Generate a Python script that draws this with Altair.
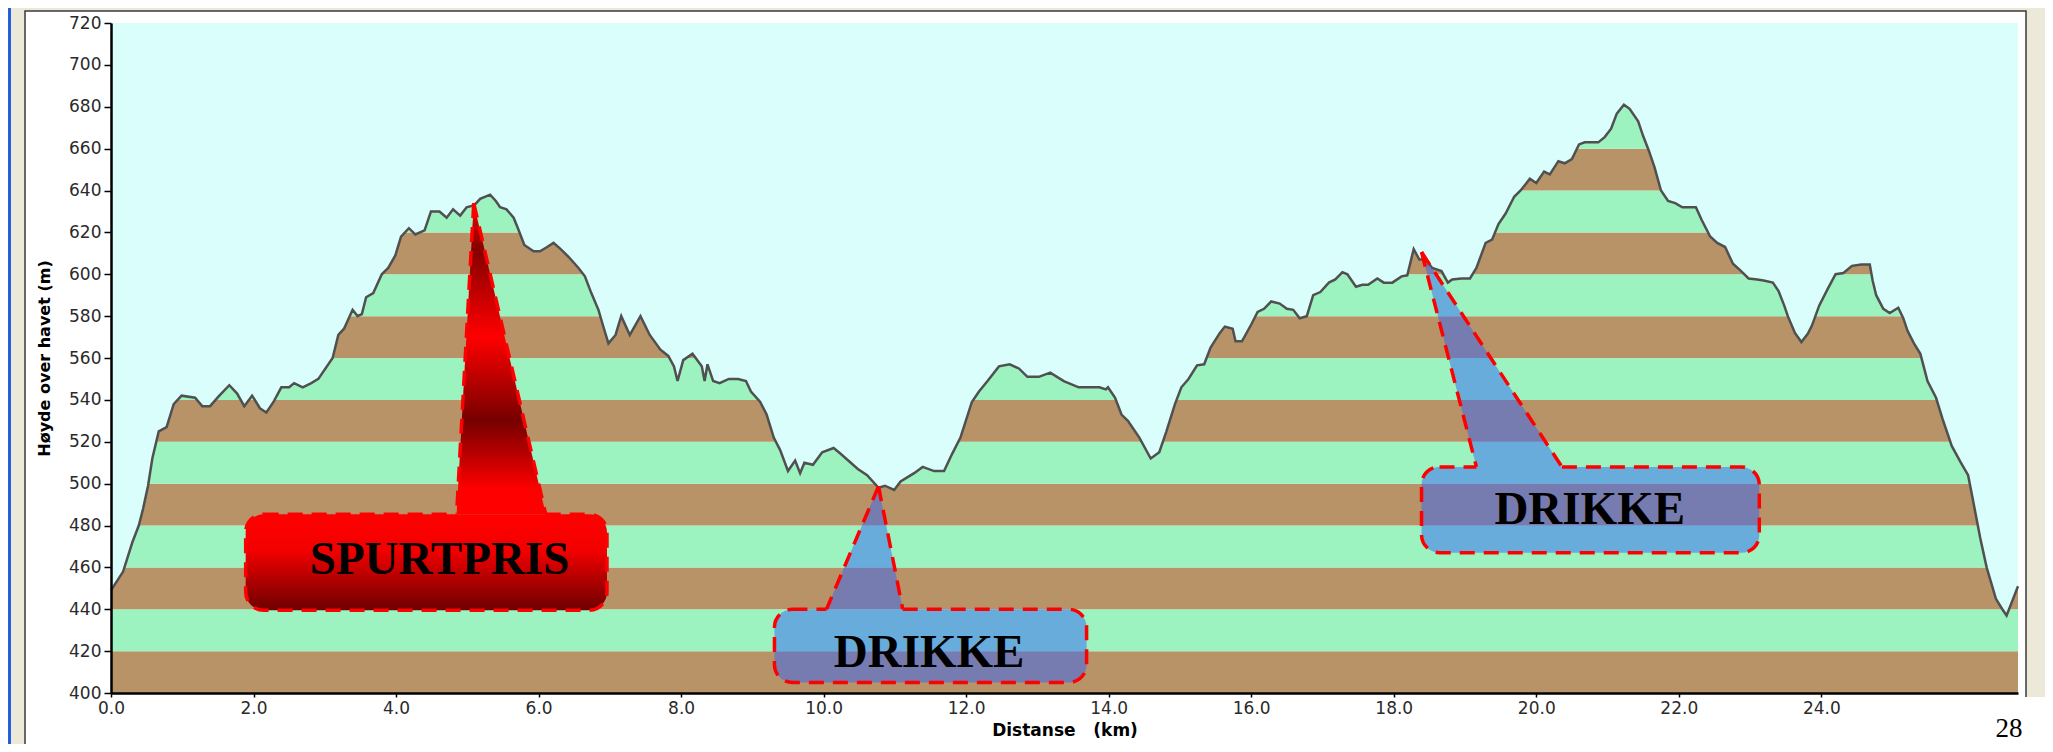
import altair as alt
import pandas as pd

# ---------------- data ----------------
profile_km = [0.00, 0.17, 0.30, 0.39, 0.45, 0.52, 0.58, 0.67, 0.78, 0.88, 0.99, 1.18, 1.28, 1.39, 1.52,
              1.66, 1.77, 1.87, 1.98, 2.09, 2.18, 2.28, 2.39, 2.50, 2.57, 2.69, 2.81, 2.91, 3.11, 3.19,
              3.27, 3.39, 3.46, 3.52, 3.58, 3.68, 3.80, 3.89, 3.99, 4.07, 4.18, 4.27, 4.40, 4.49, 4.61,
              4.71, 4.80, 4.90, 4.99, 5.10, 5.18, 5.32, 5.40, 5.46, 5.55, 5.65, 5.71, 5.80, 5.93, 6.02,
              6.12, 6.21, 6.31, 6.43, 6.56, 6.65, 6.74, 6.84, 6.90, 6.98, 7.08, 7.16, 7.28, 7.43, 7.56,
              7.71, 7.82, 7.90, 7.95, 8.03, 8.16, 8.29, 8.33, 8.37, 8.45, 8.54, 8.67, 8.80, 8.91, 8.98,
              9.11, 9.20, 9.30, 9.39, 9.50, 9.60, 9.67, 9.73, 9.85, 9.98, 10.14, 10.23, 10.48, 10.61, 10.77,
              10.86, 10.99, 11.08, 11.27, 11.39, 11.55, 11.69, 11.80, 11.92, 12.08, 12.18, 12.30, 12.46, 12.61, 12.74,
              12.86, 13.02, 13.18, 13.37, 13.58, 13.87, 13.96, 13.99, 14.09, 14.18, 14.27, 14.43, 14.59, 14.71, 14.81,
              14.93, 15.02, 15.12, 15.24, 15.34, 15.43, 15.56, 15.63, 15.74, 15.78, 15.87, 16.00, 16.09, 16.18, 16.28,
              16.40, 16.50, 16.59, 16.68, 16.78, 16.87, 16.97, 17.09, 17.18, 17.28, 17.35, 17.47, 17.56, 17.64, 17.77,
              17.86, 17.98, 18.11, 18.19, 18.28, 18.36, 18.45, 18.54, 18.67, 18.76, 18.82, 18.95, 19.07, 19.16, 19.29,
              19.38, 19.47, 19.57, 19.69, 19.78, 19.91, 20.00, 20.11, 20.19, 20.31, 20.40, 20.50, 20.60, 20.68, 20.87,
              20.96, 21.05, 21.13, 21.23, 21.31, 21.43, 21.50, 21.58, 21.66, 21.75, 21.85, 21.95, 22.05, 22.14, 22.24,
              22.32, 22.44, 22.54, 22.65, 22.76, 22.86, 22.98, 23.10, 23.19, 23.32, 23.40, 23.48, 23.53, 23.63, 23.72,
              23.81, 23.87, 23.97, 24.09, 24.20, 24.31, 24.43, 24.56, 24.68, 24.72, 24.77, 24.87, 24.96, 25.08, 25.15,
              25.21, 25.30, 25.39, 25.49, 25.61, 25.70, 25.83, 25.95, 26.06, 26.14, 26.23, 26.32, 26.45, 26.54, 26.60,
              26.68, 26.76]
profile_m = [449, 458, 472, 480, 488, 499, 512, 525, 527, 538, 542, 541, 537, 537, 542,
             547, 543, 537, 542, 536, 534, 539, 546, 546, 548, 546, 548, 550, 560, 571,
             574, 583, 580, 581, 589, 591, 600, 603, 609, 618, 622, 619, 621, 630, 630,
             627, 631, 628, 632, 633, 636, 638, 635, 632, 631, 627, 622, 614, 611, 611,
             613, 615, 612, 608, 603, 599, 591, 583, 576, 567, 571, 580, 571, 580, 571,
             564, 561, 556, 549, 559, 562, 556, 549, 557, 549, 548, 550, 550, 549, 544,
             539, 533, 522, 516, 506, 511, 505, 510, 509, 515, 517, 514.5, 507, 504, 498,
             499, 497, 501, 505, 508, 506, 506, 514, 522, 539, 544, 549, 556, 557, 555,
             551, 551, 553, 549, 546, 546, 545, 546, 541, 533, 530, 522, 512, 515, 525,
             538, 546, 550, 556.5, 557, 565, 572, 575, 574, 568, 568, 576, 582, 583.5, 587,
             586, 583.5, 583, 579, 580, 590, 591.5, 596, 597.5, 601, 600, 594, 595, 595, 598,
             596, 596, 599, 599.5, 612, 607, 607, 603, 601.5, 596, 597.5, 598, 598, 603, 615,
             616.5, 624, 629, 637, 640, 645.6, 643.6, 649, 647.7, 654, 653, 655, 662, 663, 663,
             665.5, 669.5, 676.7, 681, 679, 673, 666, 659, 651, 640, 635, 634, 632, 632, 632,
             626, 618, 615, 613, 605, 602, 598, 597.5, 597, 596, 592, 585, 580, 572, 567.6,
             571.6, 575.6, 585, 593, 600, 600.6, 604, 604.6, 604.6, 597, 590, 583.5, 581.5, 584, 579,
             573, 567, 562, 549, 541, 531, 518, 510.5, 504, 490, 474, 460, 445, 440, 437,
             444, 451]

x_ticks = [0, 2, 4, 6, 8, 10, 12, 14, 16, 18, 20, 22, 24]
y_ticks = [400, 420, 440, 460, 480, 500, 520, 540, 560, 580, 600, 620, 640, 660, 680, 700, 720]

stripe_bottom = [400, 420, 440, 460, 480, 500, 520, 540, 560, 580, 600, 620, 640, 660, 680, 700]
stripe_top = [420, 440, 460, 480, 500, 520, 540, 560, 580, 600, 620, 640, 660, 680, 700, 720]
stripe_kind = ["brun", "grønn"] * 8

callout_text = ["SPURTPRIS", "DRIKKE", "DRIKKE"]
box_left = [1.89, 9.31, 18.39]
box_right = [6.96, 13.69, 23.13]
box_top = [485.4, 440.0, 508.0]
box_bottom = [439.5, 405.0, 467.0]
apex_km = [5.09, 10.77, 18.39]
apex_m = [634.0, 498.7, 610.6]
base_left = [4.85, 10.04, 19.16]
base_right = [6.10, 11.11, 20.36]
text_km = [4.61, 11.48, 20.75]
text_m = [457.0, 412.5, 480.6]

page_number = "28"

# ---------------- layout / style ----------------
X_MAX = 26.76
W, H = 1907, 670
SKY = "#DAFEFC"
GREEN = "#9CF3C0"
BROWN = "#B89368"
BLUE = "#3366F5"
RED = "#FF0000"
R = 18
DASH, GAP = 15, 9

xs = alt.Scale(domain=[0, X_MAX], nice=False, zero=False)
ys = alt.Scale(domain=[400, 720], nice=False, zero=False)

X_AXIS = alt.Axis(
    values=x_ticks, format=".1f", title="Distanse\u00a0\u00a0\u00a0(km)",
    grid=False, domainColor="black", domainWidth=2.5, tickColor="black", tickWidth=1.5, tickSize=4,
    labelFont="DejaVu Sans", labelFontSize=17, labelColor="#2a2a2a", labelPadding=3,
    labelFlush=False, labelOverlap=False,
    titleFont="DejaVu Sans", titleFontSize=17, titleFontWeight="bold", titleColor="black",
    titleX=W / 2, titleY=37, titleBaseline="middle", zindex=1)
Y_AXIS = alt.Axis(
    values=y_ticks, format="d", title="Høyde over havet (m)",
    grid=False, domainColor="black", domainWidth=2.5, tickColor="black", tickWidth=1.5, tickSize=7,
    labelFont="DejaVu Sans", labelFontSize=17, labelColor="#2a2a2a", labelPadding=3,
    labelFlush=False, labelOverlap=False,
    titleFont="DejaVu Sans", titleFontSize=16, titleFontWeight="bold", titleColor="black",
    titleX=-67, titleY=H / 2, titleBaseline="middle", zindex=1)


def X(field):
    return alt.X(field, scale=xs, axis=X_AXIS)


def Y(field):
    return alt.Y(field, scale=ys, axis=Y_AXIS)


one = pd.DataFrame({"a": [0]})
prof = pd.DataFrame({"km": profile_km, "m": profile_m})


def gap_dash(left, bl, br):
    """dash array for a rounded rect whose top edge has a hole where the pointer joins"""
    l1 = (bl - left) * W / X_MAX - R
    gap = (br - bl) * W / X_MAX
    arr = []
    pos = 0.0
    while pos + DASH + GAP <= l1:
        arr += [DASH, GAP]
        pos += DASH + GAP
    rem = l1 - pos
    if rem > DASH:
        arr += [DASH, round(rem - DASH + gap, 1)]
    elif rem > 0:
        arr += [round(rem, 1), round(gap, 1)]
    else:
        arr[-1] = round(arr[-1] + gap, 1)
    arr += [DASH, GAP] * 70
    return arr


# decorations around the plot (window panel)
panel = alt.Chart(one).mark_rect(fill="white", stroke="#3a3a3a", strokeWidth=1.5).encode(
    x=alt.value(-86), x2=alt.value(1915), y=alt.value(-12), y2=alt.value(722))
blue_edge = alt.Chart(one).mark_rect(fill="#2160E0").encode(
    x=alt.value(-103), x2=alt.value(-100), y=alt.value(-15), y2=alt.value(722))

stripes = alt.Chart(pd.DataFrame({"lo": stripe_bottom, "hi": stripe_top, "kind": stripe_kind})).mark_rect().encode(
    x=alt.value(0), x2=alt.value(W),
    y=Y("hi:Q"), y2="lo:Q",
    color=alt.Color("kind:N", scale=alt.Scale(domain=["brun", "grønn"], range=[BROWN, GREEN]), legend=None))

sky = alt.Chart(prof).mark_area(color=SKY, opacity=1).encode(
    x=X("km:Q"), y=Y("m:Q"), y2=alt.datum(720))

line = alt.Chart(prof).mark_line(color="#505050", strokeWidth=2.5).encode(
    x=X("km:Q"), y=Y("m:Q"))

red_box_grad = {"gradient": "linear", "x1": 0, "y1": 0, "x2": 0, "y2": 1,
                "stops": [{"offset": 0, "color": "#FF0000"}, {"offset": 0.38, "color": "#F20000"},
                          {"offset": 1, "color": "#6C0000"}]}
red_ptr_grad = {"gradient": "linear", "x1": 0, "y1": 0, "x2": 0, "y2": 1,
                "stops": [{"offset": 0, "color": "#FF0000"}, {"offset": 0.15, "color": "#840000"},
                          {"offset": 0.43, "color": "#FF0000"}, {"offset": 0.70, "color": "#760000"},
                          {"offset": 0.92, "color": "#FF0000"}, {"offset": 1, "color": "#FF0000"}]}

layers = [panel, blue_edge, stripes, sky, line]

for i, txt in enumerate(callout_text):
    red = txt == "SPURTPRIS"
    bdf = pd.DataFrame({"l": [box_left[i]], "r": [box_right[i]], "t": [box_top[i]], "b": [box_bottom[i]]})
    dash = gap_dash(box_left[i], base_left[i], base_right[i])
    if red:
        bmark = alt.Chart(bdf).mark_rect(fill=red_box_grad, stroke=RED, strokeWidth=3.5,
                                         strokeDash=dash, cornerRadius=R)
    else:
        bmark = alt.Chart(bdf).mark_rect(fill=BLUE, fillOpacity=0.5, stroke=RED, strokeWidth=3.5,
                                         strokeOpacity=1, strokeDash=dash, cornerRadius=R)
    box = bmark.encode(x=X("l:Q"), x2="r:Q", y=Y("t:Q"), y2="b:Q")

    pdf = pd.DataFrame({"m": [apex_m[i], box_top[i]],
                        "xl": [apex_km[i], base_left[i]],
                        "xr": [apex_km[i], base_right[i]]})
    if red:
        pmark = alt.Chart(pdf).mark_area(orient="horizontal", fill=red_ptr_grad, opacity=1)
    else:
        pmark = alt.Chart(pdf).mark_area(orient="horizontal", fill=BLUE, fillOpacity=0.5)
    ptr = pmark.encode(y=Y("m:Q"), x=X("xl:Q"), x2="xr:Q")

    sdf = pd.DataFrame({"side": ["L", "L", "R", "R"], "ord": [0, 1, 0, 1],
                        "km": [apex_km[i], base_left[i], apex_km[i], base_right[i]],
                        "m": [apex_m[i], box_top[i], apex_m[i], box_top[i]]})
    sides = alt.Chart(sdf).mark_line(color=RED, strokeWidth=3.5, strokeDash=[DASH, GAP]).encode(
        x=X("km:Q"), y=Y("m:Q"), detail="side:N", order=alt.Order("ord:Q"))

    tdf = pd.DataFrame({"km": [text_km[i]], "m": [text_m[i]], "t": [txt]})
    label = alt.Chart(tdf).mark_text(font="Liberation Serif", fontWeight="bold", fontSize=47,
                                     color="black", align="center", baseline="alphabetic").encode(
        x=X("km:Q"), y=Y("m:Q"), text="t:N")
    layers += [box, ptr, sides, label]

num_box = alt.Chart(one).mark_rect(fill="white").encode(
    x=alt.value(1864), x2=alt.value(1935), y=alt.value(674), y2=alt.value(722))
num_txt = alt.Chart(pd.DataFrame({"t": [page_number]})).mark_text(
    font="Liberation Serif", fontSize=27, color="black", align="center", baseline="alphabetic").encode(
    x=alt.value(1898), y=alt.value(714), text="t:N")
layers += [num_box, num_txt]

chart = alt.layer(*layers).properties(
    width=W, height=H,
    padding={"left": 103, "top": 15, "right": 27, "bottom": 51},
    autosize=alt.AutoSizeParams(type="none"),
    background="#ECE9D8",
).configure_view(stroke="#606060", strokeWidth=2)

chart.save("out.html", embed_options={"renderer": "svg", "actions": False})
